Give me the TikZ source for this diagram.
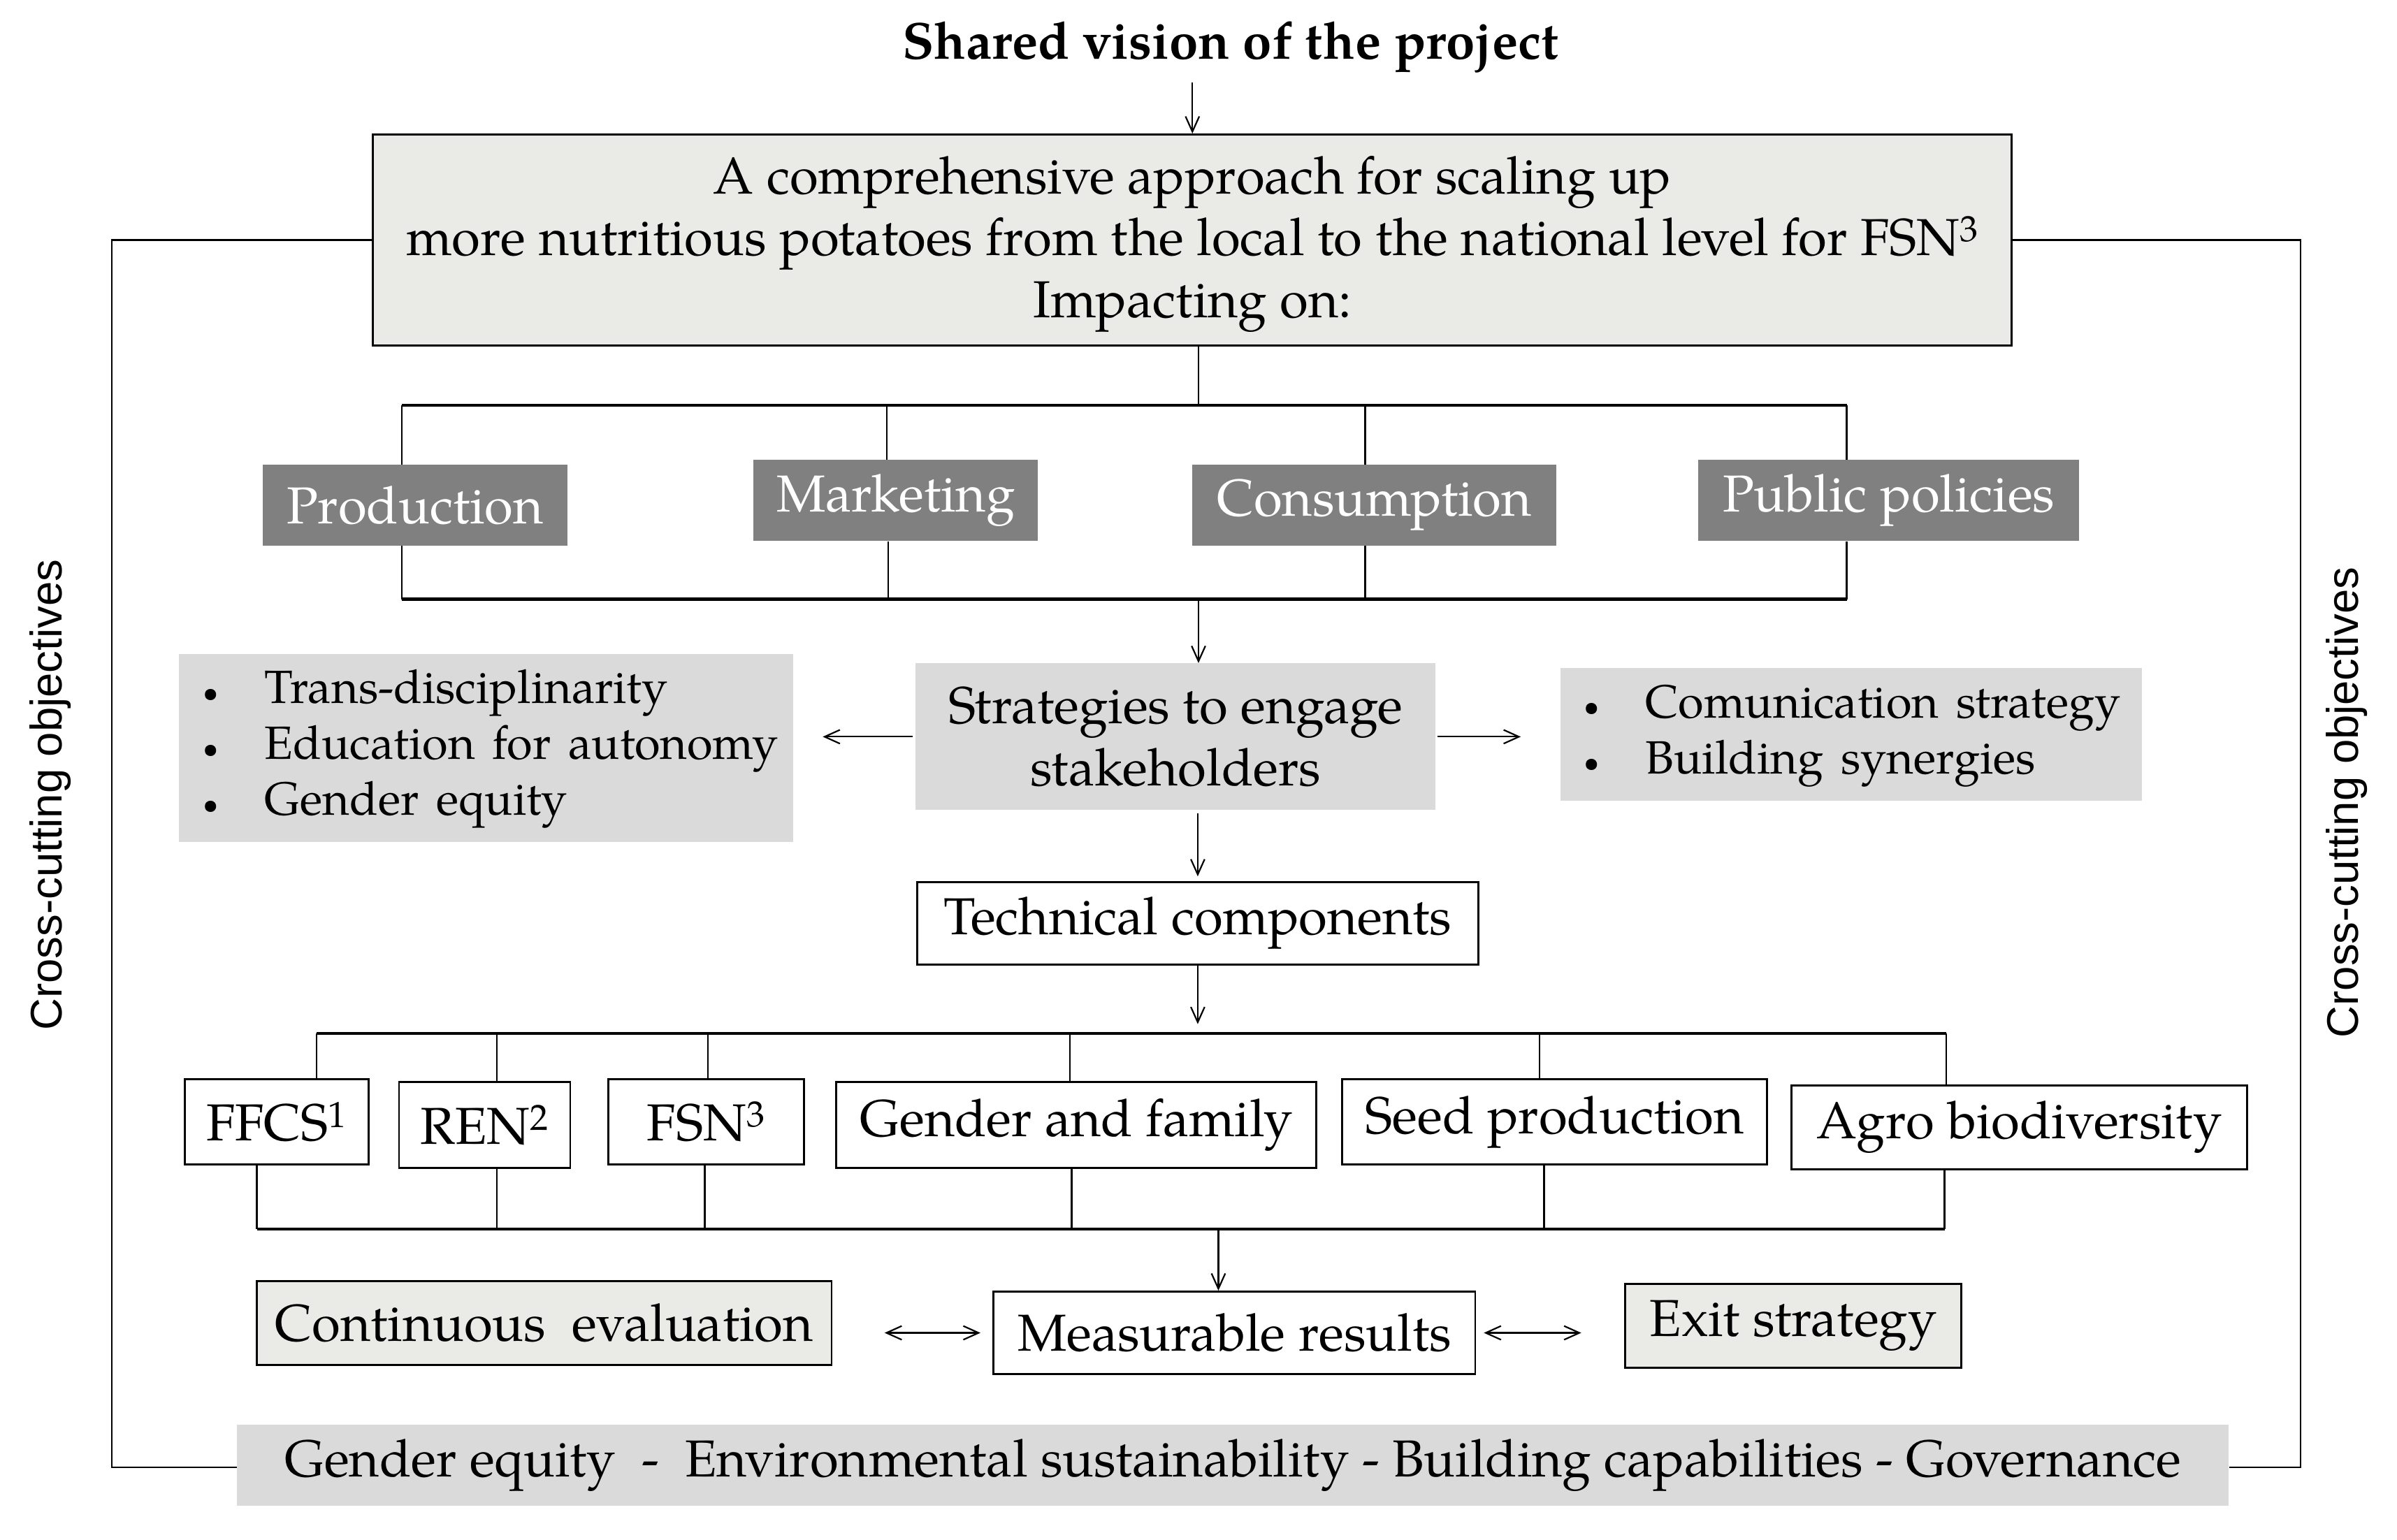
\documentclass[tikz,border=0pt]{standalone}
\usepackage{fontspec}
\setmainfont{TeX Gyre Pagella}
\newfontfamily\sidefont{Liberation Sans}
\usetikzlibrary{arrows.meta}
\definecolor{darkbox}{RGB}{128,128,128}
\definecolor{lightbox}{RGB}{218,218,218}
\definecolor{paper}{RGB}{234,234,230}
\newcommand\txtsize{\fontsize{34}{40.5}\selectfont}
\newcommand\listsize{\fontsize{30.5}{36.5}\selectfont}
\newcommand\smallbul{\raisebox{1pt}{\scalebox{0.6}{\textbullet}}}
\tikzset{
  base/.style={inner sep=0pt, anchor=center, align=center, font=\txtsize},
  darkbx/.style={base, fill=darkbox, text=white},
  lightbx/.style={base, fill=lightbox},
  paperbx/.style={base, fill=paper, draw=black, line width=1.3pt},
  whitebx/.style={base, fill=white, draw=black, line width=1.3pt},
  conn/.style={line width=1pt},
  bar/.style={line width=2pt},
  arr/.style={line width=1pt, -{Straight Barb[length=10pt,width=9pt,line width=1pt]}},
  darr/.style={line width=1pt, {Straight Barb[length=10pt,width=9pt,line width=1pt]}-{Straight Barb[length=10pt,width=9pt,line width=1pt]}},
  sidelabel/.style={inner sep=0pt, rotate=90, font=\sidefont\fontsize{29}{34}\selectfont}
}
\begin{document}
\begin{tikzpicture}[x=1pt,y=-1pt]
\useasboundingbox (0,0) rectangle (1568,1007.5);

% title
\node[base, font=\txtsize\bfseries] (title) at (805,31) {Shared vision of the project};

% main box
\node[paperbx, minimum width=1072pt, minimum height=138pt] (main) at (780,157)
  {\rule{0pt}{30pt}A comprehensive approach for scaling up\\ more nutritious\ potatoes from the local to the national level for FSN\textsuperscript{3}\\ Impacting on:};

% impact boxes
\node[darkbx, minimum width=199pt, minimum height=53pt] (prod) at (271.5,330.5) {Production};
\node[darkbx, minimum width=186pt, minimum height=53pt] (mark) at (586,327.5) {Marketing};
\node[darkbx, minimum width=238pt, minimum height=53pt] (cons) at (899,330.5) {Consumption};
\node[darkbx, minimum width=249pt, minimum height=53pt] (pub) at (1235.5,327.5) {Public policies};

% strategies
\node[lightbx, minimum width=340pt, minimum height=96pt] (strat) at (769,482) {Strategies to engage\\ stakeholders};
\node[lightbx, minimum width=402pt, minimum height=123pt, text width=370pt, align=left] (leftlist) at (318,489.5)
  {\listsize\begin{tabular}{@{}l@{\hspace{30pt}}l@{}}
  \smallbul & Trans-disciplinarity\\
  \smallbul & Education for autonomy\\
  \smallbul & Gender equity
  \end{tabular}};
\node[lightbx, minimum width=380pt, minimum height=87pt, text width=350pt, align=left] (rightlist) at (1211,480.5)
  {\listsize\begin{tabular}{@{}l@{\hspace{30pt}}l@{}}
  \smallbul & Comunication strategy\\
  \smallbul & Building synergies
  \end{tabular}};

% technical components
\node[whitebx, minimum width=367pt, minimum height=54pt] (tech) at (783.5,604) {Technical components};

\node[whitebx, minimum width=120pt, minimum height=56pt] (ffcs) at (181,734) {FFCS\textsuperscript{1}};
\node[whitebx, minimum width=112pt, minimum height=56pt] (ren) at (317,736) {REN\textsuperscript{2}};
\node[whitebx, minimum width=128pt, minimum height=56pt] (fsn) at (462,734) {FSN\textsuperscript{3}};
\node[whitebx, minimum width=314pt, minimum height=56pt] (gender) at (704,736) {Gender and family};
\node[whitebx, minimum width=278pt, minimum height=56pt] (seed) at (1017,734) {Seed production};
\node[whitebx, minimum width=298pt, minimum height=55pt] (agro) at (1321,737.5) {Agro biodiversity};

% results row
\node[paperbx, minimum width=376pt, minimum height=55pt] (cont) at (356,865.5) {Continuous\ \ evaluation};
\node[whitebx, minimum width=315pt, minimum height=54pt] (meas) at (807.5,872) {Measurable results};
\node[paperbx, minimum width=220pt, minimum height=55pt] (exit) at (1173,867.5) {Exit strategy};

% bottom bar
\node[lightbx, minimum width=1303pt, minimum height=53pt] (bottom) at (806.5,958.5)
  {Gender equity\ \ -\ \ Environmental sustainability - Building capabilities - Governance};

% side labels
\node[sidelabel] (sideL) at (33,520) {Cross-cutting objectives};
\node[sidelabel] (sideR) at (1535,525) {Cross-cutting objectives};

% coordinates
\coordinate (b1L) at (263,265);
\coordinate (b1M) at (784,265);
\coordinate (b1B) at (580,265);
\coordinate (b1C) at (893,265);
\coordinate (b1R) at (1208,265);
\coordinate (b2L) at (263,392);
\coordinate (b2B) at (581,392);
\coordinate (b2M) at (784,392);
\coordinate (b2C) at (893,392);
\coordinate (b2R) at (1208,392);
\coordinate (b3L) at (207,676);
\coordinate (b3a) at (325,676);
\coordinate (b3b) at (463,676);
\coordinate (b3c) at (700,676);
\coordinate (b3d) at (1007,676);
\coordinate (b3R) at (1273,676);
\coordinate (b4L) at (168,804);
\coordinate (b4a) at (325,804);
\coordinate (b4b) at (461,804);
\coordinate (b4c) at (701,804);
\coordinate (b4M) at (797,804);
\coordinate (b4d) at (1010,804);
\coordinate (b4R) at (1272,804);
\coordinate (LL) at (73,960);
\coordinate (RR) at (1505,960);

% connectors
\draw[arr] (title.south -| main.north) ++(0,6) -- (main.north);
\draw[conn] (b1M |- main.south) -- (b1M);
\draw[bar] (b1L) -- (b1R);
\draw[conn] (b1L) -- (b1L |- prod.north);
\draw[conn] (b1B) -- (b1B |- mark.north);
\draw[conn] (b1C) -- (b1C |- cons.north);
\draw[conn] (b1R) -- (b1R |- pub.north);
\draw[conn] (b2L |- prod.south) -- (b2L);
\draw[conn] (b2B |- mark.south) -- (b2B);
\draw[conn] (b2C |- cons.south) -- (b2C);
\draw[conn] (b2R |- pub.south) -- (b2R);
\draw[bar] (b2L) -- (b2R);
\draw[arr] (b2M) -- (b2M |- strat.north);
\draw[arr, shorten <=2pt, shorten >=19pt] (strat.west) -- (leftlist.east |- strat.west);
\draw[arr, shorten <=1pt, shorten >=26pt] (strat.east) -- (rightlist.west |- strat.east);
\draw[arr, shorten <=2pt, shorten >=3pt] (tech.north |- strat.south) -- (tech.north);
\draw[arr, shorten >=6pt] (tech.south) -- (tech.south |- b3L);
\draw[bar] (b3L) -- (b3R);
\draw[conn] (b3L) -- (b3L |- ffcs.north);
\draw[conn] (b3a) -- (b3a |- ren.north);
\draw[conn] (b3b) -- (b3b |- fsn.north);
\draw[conn] (b3c) -- (b3c |- gender.north);
\draw[conn] (b3d) -- (b3d |- seed.north);
\draw[conn] (b3R) -- (b3R |- agro.north);
\draw[conn] (b4L |- ffcs.south) -- (b4L);
\draw[conn] (b4a |- ren.south) -- (b4a);
\draw[conn] (b4b |- fsn.south) -- (b4b);
\draw[conn] (b4c |- gender.south) -- (b4c);
\draw[conn] (b4d |- seed.south) -- (b4d);
\draw[conn] (b4R |- agro.south) -- (b4R);
\draw[bar] (b4L) -- (b4R);
\draw[arr] (b4M) -- (b4M |- meas.north);
\draw[darr, shorten <=34pt, shorten >=8pt] (cont.east |- meas.west) -- (meas.west);
\draw[darr, shorten <=5pt, shorten >=28pt] (meas.east) -- (exit.west |- meas.east);
\draw[conn] (main.west) -| (LL) -- (bottom.west |- LL);
\draw[conn] (main.east) -| (RR) -- (bottom.east |- RR);
\end{tikzpicture}
\end{document}
